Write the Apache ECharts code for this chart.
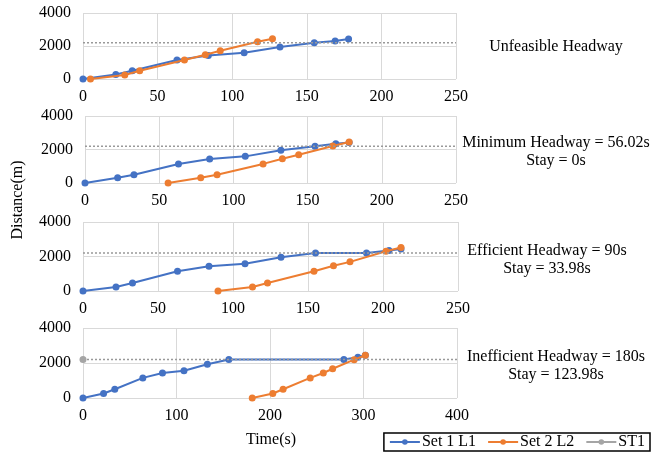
<!DOCTYPE html>
<html>
<head>
<meta charset="utf-8">
<script src="https://cdn.jsdelivr.net/npm/echarts@6/dist/echarts.min.js"></script>
<style>
  html, body { margin: 0; padding: 0; background: #fff; }
  #myChart { width: 651px; height: 452px; }
</style>
</head>
<body>
<div id="myChart"></div>
<script>
  // 每个面板的数据 (time s, distance m)
  const set1Time1 = [0, 22, 33, 63, 84, 108, 132, 155, 169, 178]
  const set1Dist1 = [0, 270, 500, 1150, 1420, 1590, 1940, 2200, 2300, 2420]
  const set2Time1 = [5, 28, 38, 68, 82, 92, 117, 127]
  const set2Dist1 = [0, 240, 500, 1150, 1470, 1710, 2260, 2440]

  const set1Time2 = [0, 22, 33, 63, 84, 108, 132, 155, 169, 178]
  const set1Dist2 = [0, 310, 490, 1140, 1430, 1590, 1960, 2200, 2350, 2420]
  const set2Time2 = [56, 78, 89, 120, 133, 144, 167, 178]
  const set2Dist2 = [0, 310, 490, 1140, 1450, 1690, 2210, 2450]

  const set1Time3 = [0, 22, 33, 63, 84, 108, 132, 155, 189, 204, 212]
  const set1Dist3 = [0, 230, 460, 1150, 1440, 1580, 1960, 2200, 2200, 2350, 2430]
  const set2Time3 = [90, 113, 123, 154, 167, 178, 202, 212]
  const set2Dist3 = [0, 230, 460, 1150, 1460, 1690, 2300, 2520]

  const set1Time4 = [0, 22, 34, 64, 85, 108, 133, 156, 279, 294, 302]
  const set1Dist4 = [0, 260, 500, 1150, 1430, 1560, 1930, 2200, 2200, 2330, 2440]
  const set2Time4 = [181, 203, 214, 243, 257, 267, 290, 302]
  const set2Dist4 = [0, 260, 500, 1150, 1430, 1670, 2190, 2440]

  const stationDist = 2200
  const xMax = [250, 250, 250, 400]
  const xStep = [50, 50, 50, 100]
  const yTicks = [0, 2000, 4000]

  const panelTitles = [
    ['Unfeasible Headway'],
    ['Minimum Headway = 56.02s', 'Stay = 0s'],
    ['Efficient Headway = 90s', 'Stay = 33.98s'],
    ['Inefficient Headway = 180s', 'Stay = 123.98s']
  ]

  const set1 = [[set1Time1, set1Dist1], [set1Time2, set1Dist2], [set1Time3, set1Dist3], [set1Time4, set1Dist4]]
  const set2 = [[set2Time1, set2Dist1], [set2Time2, set2Dist2], [set2Time3, set2Dist3], [set2Time4, set2Dist4]]

  const FONT = '"Liberation Serif", "Times New Roman", serif'
  const BLUE = '#4472C4', ORANGE = '#ED7D31', GRAY = '#A5A5A5'

  const grids = [
    { left: 83, top: 13, width: 373, height: 66 },
    { left: 85, top: 116, width: 371, height: 67 },
    { left: 83, top: 222, width: 375, height: 69 },
    { left: 83, top: 328, width: 374, height: 70 }
  ]
  const textPos = [
    { x: 556, y: 47 },
    { x: 556, y: 143 },
    { x: 547, y: 251 },
    { x: 556, y: 357 }
  ]

  const zip = (a, b) => a.map((v, i) => [v, b[i]])

  let xAxis = [], yAxis = [], series = [], graphic = []
  for (let i = 0; i < 4; i++) {
    xAxis.push({
      gridIndex: i, type: 'value', min: 0, max: xMax[i], interval: xStep[i],
      axisLine: { show: false }, axisTick: { show: false },
      axisLabel: { color: '#000', fontFamily: FONT, fontSize: 16, margin: 10 },
      splitLine: { lineStyle: { color: '#d9d9d9', width: 1 } }
    })
    yAxis.push({
      gridIndex: i, type: 'value', min: yTicks[0], max: yTicks[2], interval: yTicks[1] - yTicks[0],
      axisLine: { show: false }, axisTick: { show: false },
      axisLabel: { color: '#000', fontFamily: FONT, fontSize: 16, margin: 12, formatter: v => String(v) },
      splitLine: { lineStyle: { color: '#d9d9d9', width: 1 } }
    })
    series.push({
      name: 'Set 1 L1', type: 'line', xAxisIndex: i, yAxisIndex: i,
      data: zip(set1[i][0], set1[i][1]),
      symbol: 'circle', symbolSize: 7, color: BLUE,
      lineStyle: { width: 2 }, z: 2
    })
    series.push({
      name: 'Set 2 L2', type: 'line', xAxisIndex: i, yAxisIndex: i,
      data: zip(set2[i][0], set2[i][1]),
      symbol: 'circle', symbolSize: 7, color: ORANGE,
      lineStyle: { width: 2 }, z: 3
    })
    // ST1 站点线, 只有最后一个面板显示起点圆点
    series.push({
      name: 'ST1', type: 'line', xAxisIndex: i, yAxisIndex: i,
      data: [
        { value: [0, stationDist], symbol: i === 3 ? 'circle' : 'none' },
        { value: [xMax[i], stationDist], symbol: 'none' }
      ],
      symbol: 'circle', symbolSize: 7, color: GRAY, clip: false,
      lineStyle: { width: 1.5, type: [2, 2], color: '#999' }, z: 4
    })
    let lines = panelTitles[i]
    lines.forEach((t, k) => {
      graphic.push({
        type: 'text', x: textPos[i].x, y: textPos[i].y + k * 18,
        style: { text: t, font: '16px ' + FONT, fill: '#000', align: 'center', verticalAlign: 'middle' }
      })
    })
  }

  graphic.push({
    type: 'text', x: 18, y: 200, rotation: Math.PI / 2,
    style: { text: 'Distance(m)', font: '16px ' + FONT, fill: '#000', align: 'center', verticalAlign: 'middle' }
  })
  graphic.push({
    type: 'text', x: 271, y: 440,
    style: { text: 'Time(s)', font: '16px ' + FONT, fill: '#000', align: 'center', verticalAlign: 'middle' }
  })

  let myChart = echarts.init(document.getElementById('myChart'))
  myChart.setOption({
    animation: false,
    grid: grids,
    xAxis: xAxis,
    yAxis: yAxis,
    series: series,
    graphic: graphic,
    legend: {
      data: [
        'Set 1 L1',
        'Set 2 L2',
        { name: 'ST1', itemStyle: { color: GRAY }, lineStyle: { type: 'solid', color: GRAY, width: 2 } }
      ],
      right: 1, bottom: 1,
      itemWidth: 30, itemHeight: 7, itemGap: 11,
      padding: [1, 5],
      borderColor: '#000', borderWidth: 1.5,
      textStyle: { color: '#000', fontFamily: FONT, fontSize: 16, padding: [0, 0, 0, -3] }
    }
  })
</script>
</body>
</html>
